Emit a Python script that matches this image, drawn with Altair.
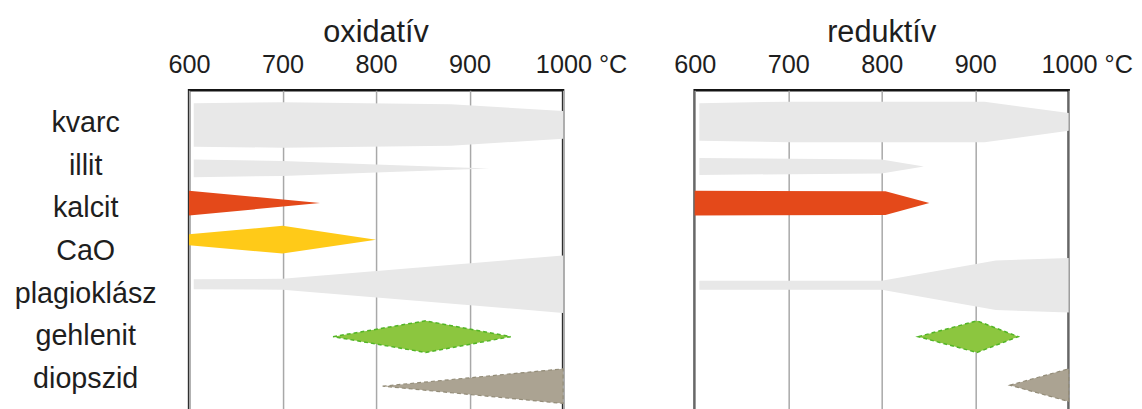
import json
import altair as alt
import pandas as pd

# ---- data -------------------------------------------------------------
minerals = ["kvarc", "illit", "kalcit", "CaO", "plagioklász", "gehlenit", "diopszid"]
mineral_colors = ["#e8e8e8", "#e8e8e8", "#e4491a", "#ffca18", "#e8e8e8", "#8cc63f", "#aba392"]
x_ticks = [600, 700, 800, 900, 1000]
label_rows = [42, 85, 128, 171, 214, 257, 300]   # row label positions (same units as y)

# oxidatív: temperature breakpoints / half-widths / band centre
ox_temp = {
    "kvarc": [605, 700, 880, 1000],
    "illit": [605, 700, 800, 921],
    "kalcit": [600, 740],
    "CaO": [600, 700, 800],
    "plagioklász": [605, 700, 1000],
    "gehlenit": [754, 853, 944],
    "diopszid": [807, 1000],
}
ox_half = {
    "kvarc": [22, 23, 21, 14],
    "illit": [9, 7.5, 4, 0],
    "kalcit": [12.5, 0],
    "CaO": [5.5, 14, 0],
    "plagioklász": [5, 5.5, 29],
    "gehlenit": [0, 16, 0],
    "diopszid": [0, 17.5],
}
ox_center = {"kvarc": 35, "illit": 79, "kalcit": 114, "CaO": 151,
             "plagioklász": 196, "gehlenit": 249, "diopszid": 299}

# reduktív
red_temp = {
    "kvarc": [605, 700, 910, 1000],
    "illit": [605, 800, 845],
    "kalcit": [600, 804, 851],
    "plagioklász": [605, 800, 922, 1000],
    "gehlenit": [839, 902, 946],
    "diopszid": [937, 1000],
}
red_half = {
    "kvarc": [19, 20.5, 20.5, 9],
    "illit": [8.5, 7, 0],
    "kalcit": [12.5, 12, 0],
    "plagioklász": [4.5, 4.5, 25, 27.5],
    "gehlenit": [0, 16, 0],
    "diopszid": [0, 16.5],
}
red_center = {"kvarc": 32, "illit": 77, "kalcit": 114,
              "plagioklász": 197, "gehlenit": 249, "diopszid": 298}

rows = []
for cond, temps, halves, centers in [("ox", ox_temp, ox_half, ox_center),
                                     ("red", red_temp, red_half, red_center)]:
    for m in temps:
        for t, h in zip(temps[m], halves[m]):
            rows.append({"cond": cond, "mineral": m, "T": t,
                         "lo": centers[m] - h, "hi": centers[m] + h})
df = pd.DataFrame(rows)

FONT = "Liberation Sans"
TXT = "#1e1e1e"

label_expr = "{}[indexof({}, datum.value)]".format(json.dumps(minerals, ensure_ascii=False),
                                                     json.dumps(label_rows))


def panel(cond, title, show_y):
    x_axis = alt.Axis(
        orient="top", values=x_ticks, format="d",
        labelExpr="datum.value == 1000 ? '1000 °C' : datum.label",
        labelAlign={"condition": {"test": "datum.value == 1000", "value": "left"}, "value": "center"},
        labelOffset={"condition": {"test": "datum.value == 1000", "value": -28}, "value": 0},
        ticks=False, domain=False, grid=True, gridColor="#a8a8a8", gridWidth=1.5,
        labelFontSize=25.5, labelPadding=18, labelBaseline="alphabetic",
        labelFlush=False, labelOverlap=False, labelBound=False,
        labelColor=TXT, labelFont=FONT, title=None,
    )
    if show_y:
        y_axis = alt.Axis(
            values=label_rows, labelExpr=label_expr, labelAlign="center",
            labelBaseline="alphabetic", labelPadding=105, labelFontSize=29,
            labelColor=TXT, labelFont=FONT, ticks=False, domain=False, grid=False,
            labelOverlap=False, labelBound=False, labelFlush=False, title=None,
        )
    else:
        y_axis = None

    x = alt.X("T:Q", scale=alt.Scale(domain=[600, 1000], nice=False, zero=False), axis=x_axis)
    y = alt.Y("lo:Q", scale=alt.Scale(domain=[0, 325], reverse=True, nice=False, zero=False),
              axis=y_axis)
    base = alt.Chart(df).transform_filter(alt.datum.cond == cond)
    fill = base.mark_area(interpolate="linear").encode(
        x=x, y=y, y2="hi:Q",
        color=alt.Color("mineral:N", scale=alt.Scale(domain=minerals, range=mineral_colors),
                        legend=None),
        detail="mineral:N",
    )
    edge_g = base.transform_filter(alt.datum.mineral == "gehlenit").mark_area(
        fillOpacity=0, stroke="#52b526", strokeWidth=1.5, strokeDash=[4, 3]
    ).encode(x=x, y=y, y2="hi:Q")
    edge_d = base.transform_filter(alt.datum.mineral == "diopszid").mark_area(
        fillOpacity=0, stroke="#938c78", strokeWidth=1.2, strokeDash=[4, 3]
    ).encode(x=x, y=y, y2="hi:Q")
    return alt.layer(fill, edge_g, edge_d).properties(
        width=378, height=325,
        title=alt.TitleParams(title, fontSize=31, font=FONT, fontWeight="normal",
                              color=TXT, anchor="middle", offset=4),
    )


chart = alt.hconcat(
    panel("ox", "oxidatív", True),
    panel("red", "reduktív", False),
    spacing=133, bounds="flush",
).properties(
    padding={"left": 5, "top": 5, "right": 0, "bottom": 0}
).configure_view(stroke="#151515", strokeWidth=2.5)

chart.save("out.html", embed_options={"renderer": "svg", "actions": False})
